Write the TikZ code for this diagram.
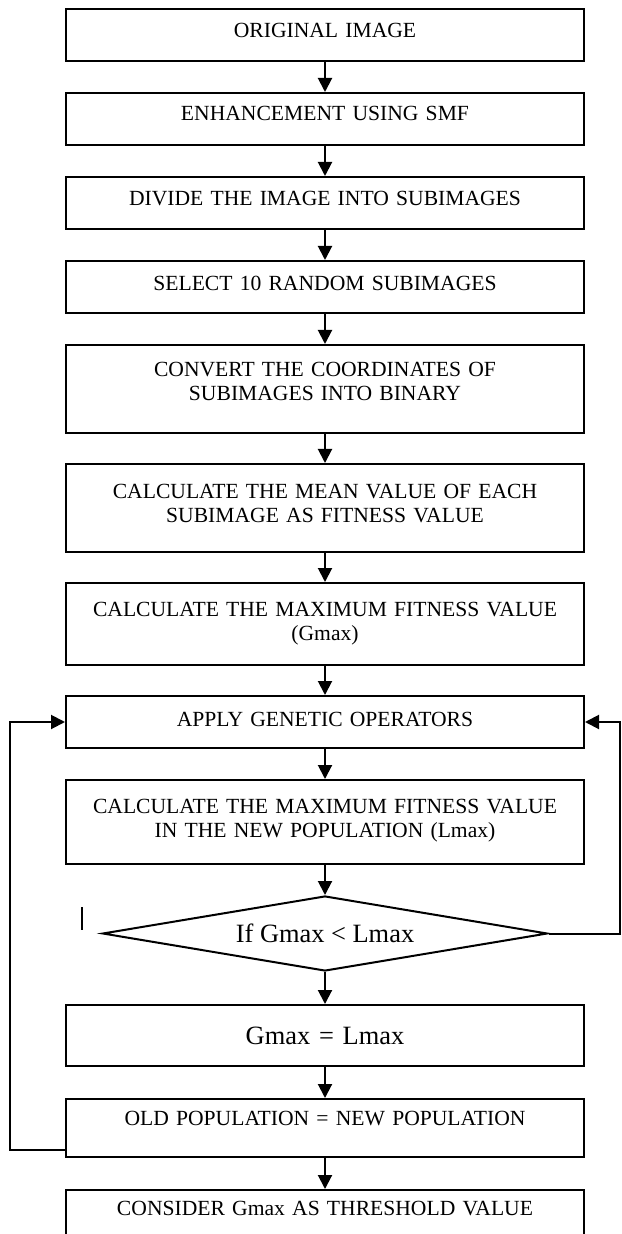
\documentclass[tikz,border=0pt]{standalone}
\usepackage{fontspec}
\setmainfont{Liberation Serif}
\usetikzlibrary{arrows.meta,positioning,shapes.geometric}

\begin{document}
\begin{tikzpicture}[node distance = 15pt,
    stepbox/.style={rectangle,minimum width=259pt,minimum height=26pt,text width=250pt,align=center,inner sep=0pt,line width=1pt,draw=black,font=\fontsize{10.8}{12}\selectfont},
    bigbox/.style={stepbox,font=\fontsize{13.2}{15}\selectfont},
    decision/.style={diamond,aspect=5.85,minimum width=222.5pt,minimum height=37.5pt,inner sep=0pt,line width=1pt,draw=black,font=\fontsize{13.2}{15}\selectfont},
    flow/.style={line width=1pt,black,-{Triangle[length=7pt,width=7pt]}},
   ]
    \useasboundingbox (0,0) rectangle (310.5pt,-617pt);

    \node (orig)   [stepbox,text depth=5pt] at (162.5pt,-17.5pt) { ORIGINAL IMAGE };
    \node (enh)    [stepbox,text depth=6pt,below=of orig]  { ENHANCEMENT USING SMF };
    \node (divide) [stepbox,text depth=5pt,below=of enh]  { DIVIDE THE IMAGE INTO SUBIMAGES };
    \node (select) [stepbox,text depth=4pt,below=of divide]  { SELECT 10 RANDOM SUBIMAGES };
    \node (conv)   [stepbox,minimum height=44pt,text depth=20pt,below=of select]  { CONVERT THE COORDINATES OF\\ SUBIMAGES INTO BINARY };
    \node (mean)   [stepbox,minimum height=44pt,text depth=17pt,below=14.5pt of conv]  { CALCULATE THE MEAN VALUE OF EACH\\ SUBIMAGE AS FITNESS VALUE };
    \node (gmax)   [stepbox,minimum height=41pt,below=14.5pt of mean]  { CALCULATE THE MAXIMUM FITNESS VALUE\\ (Gmax) };

    \node (apply)  [stepbox,text depth=3pt,below=14.5pt of gmax]  { APPLY GENETIC OPERATORS };
    \node (lmax)   [stepbox,minimum height=42pt,text depth=15.5pt,below=of apply]  { CALCULATE THE MAXIMUM FITNESS VALUE\\ IN THE NEW POPULATION (Lmax) };
    \node (test)   [decision,below=of lmax]  { If Gmax < Lmax };
    \node (update) [bigbox,minimum height=30.5pt,below=16pt of test]  { Gmax = Lmax };
    \node (old)    [stepbox,minimum height=29pt,text depth=9.5pt,below=15.5pt of update]  { OLD POPULATION = NEW POPULATION };
    \node (thresh) [stepbox,text depth=8pt,below=15.5pt of old]  { CONSIDER Gmax AS THRESHOLD VALUE };

    \draw[flow] (orig) -- (enh);
    \draw[flow] (enh) -- (divide);
    \draw[flow] (divide) -- (select);
    \draw[flow] (select) -- (conv);
    \draw[flow] (conv) -- (mean);
    \draw[flow] (mean) -- (gmax);
    \draw[flow] (gmax) -- (apply);
    \draw[flow] (apply) -- (lmax);
    \draw[flow] (lmax) -- (test);
    \draw[flow] (test) -- (update);
    \draw[flow] (update) -- (old);
    \draw[flow] (old) -- (thresh);

    \draw[flow] (test.east) -- ++(35.5pt,0) |- (apply.east);
    \draw[flow] ([yshift=-11pt]old.west) -- ++(-27.5pt,0) |- (apply.west);

    \draw[line width=0.75pt] ([xshift=-9.75pt,yshift=2pt]test.west) -- ++(0,11.5pt);
  \end{tikzpicture}
\end{document}
